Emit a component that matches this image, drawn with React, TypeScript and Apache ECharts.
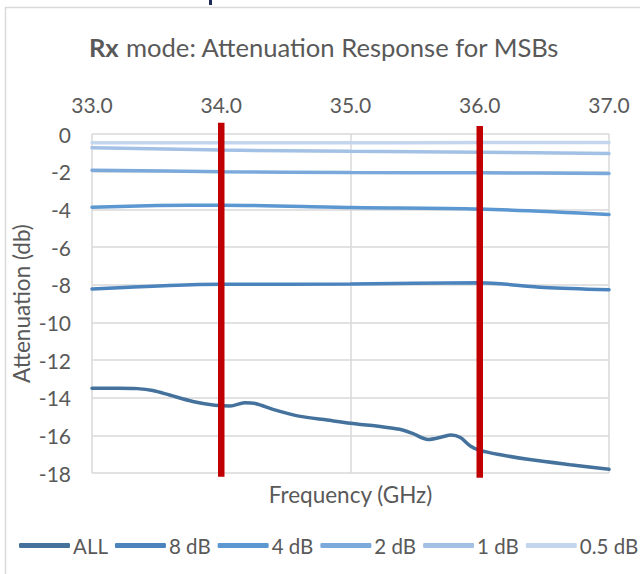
import React, { useEffect, useRef } from "react";
import * as echarts from "echarts";

const allFreq = [33.0, 33.2, 33.35, 33.47, 33.6, 33.78, 33.95, 34.07, 34.18, 34.27, 34.4, 34.6, 34.82, 35.05, 35.2, 35.38, 35.48, 35.6, 35.7, 35.78, 35.85, 35.93, 36.0, 36.15, 36.4, 36.7, 37.0];
const allValues = [-13.5, -13.5, -13.52, -13.62, -13.86, -14.2, -14.4, -14.44, -14.27, -14.32, -14.62, -14.98, -15.19, -15.4, -15.5, -15.68, -15.9, -16.22, -16.1, -15.98, -16.12, -16.58, -16.8, -17.02, -17.3, -17.56, -17.8];

const db8Freq = [33, 34, 35, 36, 36.5, 37];
const db8Values = [-8.23, -7.98, -7.97, -7.9, -8.15, -8.27];

const db4Freq = [33, 33.5, 34, 35, 36, 37];
const db4Values = [-3.89, -3.8, -3.78, -3.9, -3.98, -4.27];

const stdFreq = [33, 34, 35, 36, 37];
const db2Values = [-1.93, -2.0, -2.05, -2.06, -2.1];
const db1Values = [-0.73, -0.85, -0.92, -0.97, -1.03];
const db05Values = [-0.47, -0.47, -0.47, -0.45, -0.45];

const seriesNames = ["ALL", "8 dB", "4 dB", "2 dB", "1 dB", "0.5 dB"];
const seriesColors = ["#44729d", "#4b83bd", "#5b97d0", "#7ba9dc", "#a3c1e5", "#c4d6ee"];

// red vertical markers at band edges
const markerFreqs = [34.0, 36.0];
const markerTops = [0.6, 0.42];
const markerBottoms = [-18.2, -18.25];

const zip = (xs: number[], ys: number[]) => xs.map((x, i) => [x, ys[i]]);

export default function App() {
  const ref = useRef<HTMLDivElement>(null);
  useEffect(() => {
    if (!ref.current) return;
    const chart = echarts.init(ref.current, null, { renderer: "svg" });
    const font = "Lato";
    const txt = "#595959";
    const dataSets = [
      zip(allFreq, allValues),
      zip(db8Freq, db8Values),
      zip(db4Freq, db4Values),
      zip(stdFreq, db2Values),
      zip(stdFreq, db1Values),
      zip(stdFreq, db05Values),
    ];
    const lineSeries = seriesNames.map((name, i) => ({
      name,
      type: "line",
      data: dataSets[i],
      smooth: 0.3,
      symbol: "none",
      color: seriesColors[i],
      lineStyle: { width: 3.5, color: seriesColors[i], cap: "round" },
      z: 3 + (5 - i),
    }));
    const markerSeries = markerFreqs.map((f, i) => ({
      name: "marker" + i,
      type: "line",
      data: [[f, markerTops[i]], [f, markerBottoms[i]]],
      symbol: "none",
      clip: false,
      lineStyle: { width: 6.5, color: "#c00000" },
      z: 20,
    }));
    chart.setOption({
      animation: false,
      backgroundColor: "#ffffff",
      textStyle: { fontFamily: font },
      title: {
        text: "{b|Rx} mode: Attenuation Response for MSBs",
        left: 319,
        top: 29,
        textAlign: "center",
        textStyle: {
          fontFamily: font,
          fontSize: 25.6,
          fontWeight: "normal",
          color: txt,
          rich: {
            b: { fontFamily: font, fontSize: 25.6, fontWeight: "bold", color: txt },
          },
        },
      },
      grid: { left: 92, right: 31, top: 134, bottom: 101, containLabel: false },
      legend: {
        data: seriesNames.map((n) => ({ name: n, icon: "roundRect" })),
        left: 19,
        top: 535,
        padding: 0,
        width: 1200,
        itemWidth: 51,
        itemHeight: 5,
        itemGap: 7,
        textStyle: { fontFamily: font, fontSize: 20.5, color: txt, padding: [0, 0, 0, -2] },
      },
      xAxis: [
        {
          type: "value",
          position: "top",
          min: 33,
          max: 37,
          interval: 1,
          axisLine: { show: false },
          axisTick: { show: false },
          axisLabel: {
            fontFamily: font,
            fontSize: 21,
            color: txt,
            margin: 19,
            formatter: (v: number) => v.toFixed(1),
          },
          splitLine: { show: true, lineStyle: { color: "#d9d9d9", width: 1.5 } },
        },
        {
          type: "value",
          position: "bottom",
          min: 33,
          max: 37,
          axisLine: { show: false },
          axisTick: { show: false },
          axisLabel: { show: false },
          splitLine: { show: false },
          name: "Frequency (GHz)",
          nameLocation: "middle",
          nameGap: 10,
          nameTextStyle: { fontFamily: font, fontSize: 22.5, color: txt, verticalAlign: "top" },
        },
      ],
      yAxis: {
        type: "value",
        min: -18,
        max: 0,
        interval: 2,
        axisLine: { show: false },
        axisTick: { show: false },
        axisLabel: { fontFamily: font, fontSize: 21, color: txt, margin: 21 },
        splitLine: { show: true, lineStyle: { color: "#d9d9d9", width: 1.5 } },
        name: "Attenuation (db)",
        nameLocation: "middle",
        nameGap: 59,
        nameMoveOverlap: false,
        nameTextStyle: { fontFamily: font, fontSize: 22.5, color: txt },
      },
      graphic: [
        {
          type: "rect",
          shape: { x: 5.5, y: 7.5, width: 700, height: 700 },
          style: { fill: "none", stroke: "#d9d9d9", lineWidth: 1.5 },
          silent: true,
          z: -10,
        },
        {
          type: "rect",
          shape: { x: 209, y: 0, width: 3, height: 5 },
          style: { fill: "#1d2b5b" },
          silent: true,
        },
      ],
      series: [...lineSeries, ...markerSeries],
    });
    return () => chart.dispose();
  }, []);
  return <div ref={ref} style={{ width: 640, height: 574, position: "absolute", left: 0, top: 0 }} />;
}
